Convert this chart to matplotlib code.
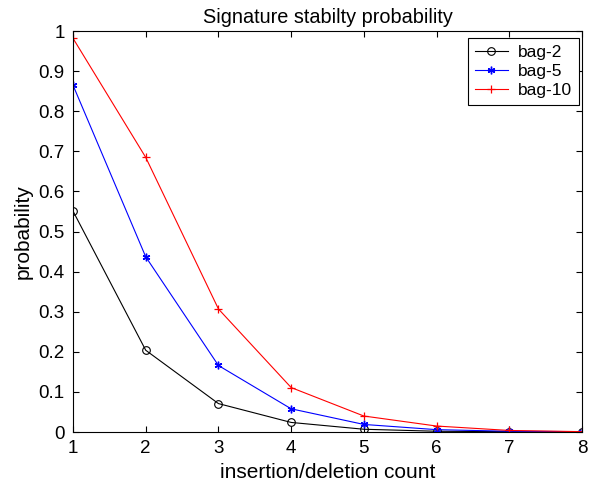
import matplotlib
matplotlib.use('Agg')
import matplotlib.pyplot as plt

plt.rcParams['font.family'] = ['Liberation Sans', 'DejaVu Sans']

# insertion/deletion count
counts = [1, 2, 3, 4, 5, 6, 7, 8]

# probabilities
bag2 = [0.551, 0.204, 0.071, 0.024, 0.007, 0.002, 0.001, 0.0005]
bag5 = [0.865, 0.437, 0.166, 0.058, 0.019, 0.006, 0.002, 0.001]
bag10 = [0.982, 0.685, 0.307, 0.111, 0.040, 0.015, 0.004, 0.001]

yticks = [0, 0.1, 0.2, 0.3, 0.4, 0.5, 0.6, 0.7, 0.8, 0.9, 1]
ytick_labels = ['0', '0.1', '0.2', '0.3', '0.4', '0.5', '0.6', '0.7', '0.8', '0.9', '1']

fig = plt.figure(figsize=(5.89, 4.86), dpi=100)
ax = fig.add_axes([0.124, 0.111, 0.864, 0.825])

ax.plot(counts, bag2, color='black', marker='o', markerfacecolor='none',
        markersize=5.5, markeredgewidth=0.8, linewidth=0.8, label='bag-2')
ax.plot(counts, bag5, color='blue', marker=(6, 2, 0), markersize=5.5,
        markeredgewidth=1.0, linewidth=0.8, label='bag-5')
ax.plot(counts, bag10, color='red', marker='+', markersize=6,
        markeredgewidth=0.9, linewidth=0.8, label='bag-10')

ax.set_xlim(1, 8)
ax.set_ylim(0, 1)
ax.set_xticks(counts)
ax.set_yticks(yticks)
ax.set_yticklabels(ytick_labels)
ax.tick_params(direction='in', top=True, right=True, labelsize=13.5,
               length=4, pad=6)
for s in ax.spines.values():
    s.set_linewidth(0.8)

ax.set_title('Signature stabilty probability', fontsize=14.3, pad=6)
ax.set_xlabel('insertion/deletion count', fontsize=15, labelpad=4)
ax.set_ylabel('probability', fontsize=15, labelpad=4)

leg = ax.legend(loc='upper right', bbox_to_anchor=(0.983, 0.922),
                bbox_transform=fig.transFigure, borderaxespad=0,
                fontsize=12.5, fancybox=False, framealpha=1, edgecolor='black',
                handlelength=1.9, handletextpad=0.6, labelspacing=0.22)
leg.get_frame().set_linewidth(0.8)

fig.savefig('out.png', dpi=100)
